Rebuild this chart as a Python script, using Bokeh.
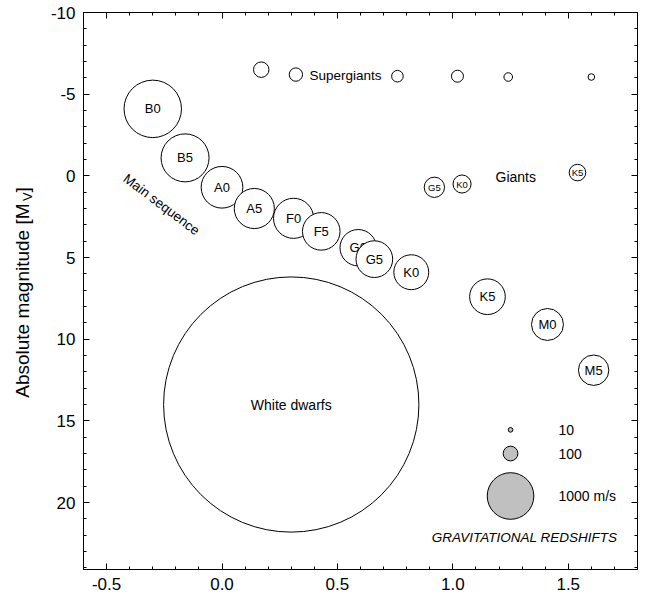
import numpy as np
from bokeh.plotting import figure
from bokeh.layouts import row
from bokeh.models import (Range1d, LinearAxis, FixedTicker, PrintfTickFormatter,
                          CustomJSTickFormatter)
from bokeh.core.properties import value
from bokeh.embed import file_html
from bokeh.resources import INLINE

# ---------------- data ----------------
# Main sequence: colour index (B-V), absolute magnitude Mv, gravitational redshift (m/s)
ms_types = ["B0", "B5", "A0", "A5", "F0", "F5", "G0", "G5", "K0", "K5", "M0", "M5"]
ms_color = [-0.30, -0.16, 0.00, 0.14, 0.31, 0.43, 0.59, 0.66, 0.82, 1.15, 1.41, 1.61]
ms_mv = [-4.1, -1.1, 0.7, 2.0, 2.6, 3.4, 4.4, 5.1, 5.9, 7.4, 9.1, 11.9]
ms_redshift = [1520, 1060, 800, 740, 740, 650, 610, 620, 560, 585, 470, 425]

# Giants
gi_types = ["G5", "K0", "K5"]
gi_color = [0.92, 1.04, 1.54]
gi_mv = [0.7, 0.5, -0.2]
gi_redshift = [190, 150, 127]

# Supergiants
sg_color = [0.17, 0.32, 0.76, 1.02, 1.24, 1.60]
sg_mv = [-6.5, -6.2, -6.1, -6.1, -6.05, -6.05]
sg_redshift = [110, 82, 62, 66, 34, 20]

# White dwarfs
wd_color = [0.30]
wd_mv = [14.0]
wd_redshift = [30000]

# Size key
key_values = [10, 100, 1000]
key_labels = ["10", "100", "1000 m/s"]
key_color = 1.25
key_mv = [15.55, 17.0, 19.6]

x_ticks = [-0.5, 0.0, 0.5, 1.0, 1.5]
y_ticks = [-10, -5, 0, 5, 10, 15, 20]

# ---------------- layout ----------------
FONT = "Liberation Sans"
W, H = 646, 603
TW = 40                      # width of the strip that holds the y-axis title
BL, BR, BT, BB = 83, 9, 12, 34   # page-coordinate borders of the plot frame
X0, X1 = -0.6, 1.8
YB, YT = 24.1, -10.0
FW, FH = W - BL - BR, H - BT - BB


def sx2x(sx):
    return X0 + (sx - BL) * (X1 - X0) / FW


def sy2y(sy):
    return YT + (sy - BT) * (YB - YT) / FH


def diam(v):
    # circle area proportional to redshift
    return 1.474 * np.sqrt(v)


p = figure(width=W - TW, height=H, x_range=Range1d(X0, X1), y_range=Range1d(YB, YT),
           output_backend="svg", toolbar_location=None,
           min_border_left=BL - TW, min_border_right=BR, min_border_top=BT, min_border_bottom=BB)
p.grid.visible = False
p.background_fill_color = "white"
p.border_fill_color = "white"
p.outline_line_color = "black"
p.outline_line_width = 1

xt = FixedTicker(ticks=x_ticks, minor_ticks=list(np.round(np.arange(-0.6, 1.81, 0.1), 2)))
yt = FixedTicker(ticks=y_ticks, minor_ticks=list(range(-10, 25)))

p.add_layout(LinearAxis(), "above")
p.add_layout(LinearAxis(), "right")


def style_axis(ax, ticker, fmt, labels):
    ax.ticker = ticker
    ax.axis_line_color = "black"
    ax.axis_line_width = 1
    ax.major_tick_in = 6
    ax.major_tick_out = 0
    ax.minor_tick_in = 3
    ax.minor_tick_out = 0
    ax.major_tick_line_color = "black"
    ax.minor_tick_line_color = "black"
    ax.major_label_text_font = FONT
    ax.major_label_text_color = "black"
    ax.major_label_text_font_size = "17px"
    if labels:
        ax.formatter = PrintfTickFormatter(format=fmt)
        ax.major_label_standoff = 8
    else:
        ax.formatter = CustomJSTickFormatter(code='return ""')
        ax.major_label_standoff = 0


for ax in p.below:
    style_axis(ax, xt, "%.1f", True)
for ax in p.above:
    style_axis(ax, xt, "%.1f", False)
for ax in p.left:
    style_axis(ax, yt, "%d", True)
for ax in p.right:
    style_axis(ax, yt, "%d", False)

circ = dict(marker="circle", fill_color="white", line_color="black", line_width=1)
txt = dict(text_font=value(FONT), text_color="black", text_align="center", text_baseline="middle")

# white dwarfs
p.scatter(x=wd_color, y=wd_mv, size=[diam(v) for v in wd_redshift], **circ)
p.text(x=wd_color, y=wd_mv, text=["White dwarfs"], text_font_size="14px", **txt)

# supergiants
p.scatter(x=sg_color, y=sg_mv, size=[diam(v) for v in sg_redshift], **circ)
p.text(x=[sx2x(309)], y=[sy2y(75)], text=["Supergiants"], text_font_size="13.5px",
       text_font=value(FONT), text_align="left", text_baseline="middle")

# giants
for c, m, r, t in zip(gi_color, gi_mv, gi_redshift, gi_types):
    p.scatter(x=[c], y=[m], size=diam(r), **circ)
    p.text(x=[c], y=[m], text=[t], text_font_size="9.5px", **txt)
p.text(x=[sx2x(495)], y=[sy2y(176)], text=["Giants"], text_font_size="14px",
       text_font=value(FONT), text_align="left", text_baseline="middle")

# main sequence (drawn one by one so that later circles cover earlier ones)
for c, m, r, t in zip(ms_color, ms_mv, ms_redshift, ms_types):
    p.scatter(x=[c], y=[m], size=diam(r), **circ)
    p.text(x=[c], y=[m], text=[t], text_font_size="13px", **txt)
p.text(x=[sx2x(161)], y=[sy2y(204)], text=["Main sequence"], text_font_size="13.5px",
       angle=-0.65, **txt)

# size key
p.scatter(x=[key_color] * 3, y=key_mv, size=[diam(v) for v in key_values],
          marker="circle", fill_color="#c0c0c0", line_color="black", line_width=1)
p.text(x=[sx2x(558)] * 3, y=key_mv, text=key_labels, text_font_size="14px",
       text_font=value(FONT), text_align="left", text_baseline="middle")
p.text(x=[sx2x(524)], y=[sy2y(537)], text=["GRAVITATIONAL REDSHIFTS"], text_font_size="13.5px",
       text_font_style="italic", **txt)

# ---------------- y-axis title strip (pixel coordinates) ----------------
t = figure(width=TW, height=H, x_range=Range1d(0, TW), y_range=Range1d(H, 0),
           x_axis_type=None, y_axis_type=None, output_backend="svg", toolbar_location=None,
           min_border=0)
t.grid.visible = False
t.outline_line_color = None
t.background_fill_color = "white"
t.border_fill_color = "white"
ttl = dict(angle=np.pi / 2, text_font=value(FONT), text_color="black", text_baseline="middle")
t.text(x=[22], y=[201], text=["Absolute magnitude  [M"], text_align="right",
       text_font_size="19px", **ttl)
t.text(x=[27], y=[204], text=["V"], text_align="left", text_font_size="13px", **ttl)
t.text(x=[22], y=[195], text=["]"], text_align="left", text_font_size="19px", **ttl)

layout = row(t, p, spacing=0)
open("out.html", "w").write(file_html(layout, INLINE))
